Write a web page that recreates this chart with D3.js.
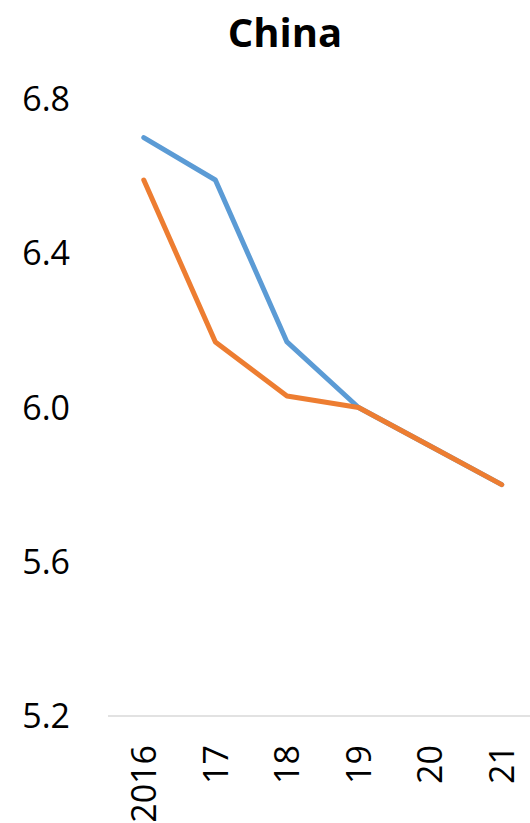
<!DOCTYPE html>
<html>
<head>
<meta charset="utf-8">
<script src="https://cdn.jsdelivr.net/npm/d3@7/dist/d3.min.js"></script>
<style>
  html, body { margin: 0; padding: 0; background: #fff; }
  svg { display: block; }
  text { font-family: "Open Sans", "Noto Sans", sans-serif; fill: #000; }
</style>
</head>
<body>
<svg id="chart" width="530" height="823"></svg>
<script>
// China real GDP growth, %
const years = ["2016", "17", "18", "19", "20", "21"];
const forecastA = [6.70, 6.59, 6.17, 6.00, 5.90, 5.80];
const forecastB = [6.59, 6.17, 6.03, 6.00, 5.90, 5.80];
const yTicks = [5.2, 5.6, 6.0, 6.4, 6.8];
const title = "China";

const svg = d3.select("#chart");

const x = d3.scalePoint()
  .domain(years)
  .range([108, 537.5])
  .padding(0.5);

const y = d3.scaleLinear()
  .domain([5.2, 6.8])
  .range([716, 99]);

// title
svg.append("text")
  .attr("x", 285)
  .attr("y", 47)
  .attr("text-anchor", "middle")
  .style("font-size", "40px")
  .style("font-weight", "bold")
  .text(title);

// y axis labels (no axis line, no gridlines)
svg.append("g")
  .selectAll("text")
  .data(yTicks)
  .join("text")
  .attr("x", 70)
  .attr("y", d => y(d))
  .attr("dy", "0.36em")
  .attr("text-anchor", "end")
  .style("font-size", "34px")
  .text(d => d3.format(".1f")(d));

// x axis baseline
svg.append("line")
  .attr("x1", 108)
  .attr("x2", 537.5)
  .attr("y1", y(5.2))
  .attr("y2", y(5.2))
  .attr("stroke", "#d9d9d9")
  .attr("stroke-width", 1.5);

// rotated category labels
svg.append("g")
  .selectAll("text")
  .data(years)
  .join("text")
  .attr("transform", d => `translate(${x(d)},745) rotate(-90)`)
  .attr("dy", "0.36em")
  .attr("text-anchor", "end")
  .style("font-size", "34px")
  .text(d => d);

const line = d3.line()
  .x((d, i) => x(years[i]))
  .y(d => y(d));

// blue first, orange drawn over it where the two coincide
[[forecastA, "#5B9BD5"], [forecastB, "#ED7D31"]].forEach(([vals, color]) => {
  svg.append("path")
    .datum(vals)
    .attr("d", line)
    .attr("fill", "none")
    .attr("stroke", color)
    .attr("stroke-width", 5)
    .attr("stroke-linecap", "round")
    .attr("stroke-linejoin", "round");
});
</script>
</body>
</html>
